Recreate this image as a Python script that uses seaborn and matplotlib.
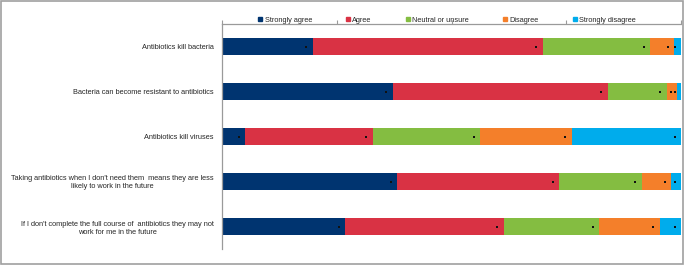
import matplotlib
matplotlib.use("Agg")
import matplotlib.pyplot as plt
from matplotlib.lines import Line2D
from matplotlib.patches import Rectangle
import seaborn as sns
import numpy as np
import pandas as pd

categories = [
    "Antibiotics kill bacteria",
    "Bacteria can become resistant to antibiotics",
    "Antibiotics kill viruses",
    "Taking antibiotics when I don't need them  means they are less\nlikely to work in the future",
    "If I don't complete the full course of  antibiotics they may not\nwork for me in the future",
]
series_names = ["Strongly agree", "Agree", "Neutral or unsure", "Disagree", "Strongly disagree"]
strongly_agree = [19.8, 37.2, 5.0, 38.2, 26.8]
agree = [50.1, 46.8, 27.8, 35.3, 34.6]
neutral = [23.4, 12.9, 23.4, 17.9, 20.8]
disagree = [5.2, 2.3, 20.0, 6.5, 13.2]
strongly_disagree = [1.5, 0.8, 23.8, 2.1, 4.6]
colors = ["#003470", "#d93244", "#84bd41", "#f47f2a", "#00acec"]

sns.set_style("white")
plt.rcParams["font.family"] = ["Liberation Sans", "DejaVu Sans"]

values = np.array([strongly_agree, agree, neutral, disagree, strongly_disagree])
cum = np.cumsum(values, axis=0)

fig = plt.figure(figsize=(6.85, 2.65), dpi=100)
ax = fig.add_axes([222 / 685, 1 - 249 / 265, 459 / 685, 225 / 265])

# draw cumulative bars from the largest to smallest so they appear stacked
for i in range(len(series_names) - 1, -1, -1):
    df = pd.DataFrame({"cat": categories, "val": cum[i]})
    sns.barplot(data=df, x="val", y="cat", orient="h", color=colors[i],
                width=0.37, saturation=1, ax=ax, linewidth=0, zorder=2 + (5 - i) * 0.01)

# small black markers near the end of each segment
mk = pd.DataFrame({
    "x": (cum - 1.4).ravel(),
    "y": np.tile(np.arange(len(categories)), len(series_names)),
})
sns.scatterplot(data=mk, x="x", y="y", marker="s", s=2.5, color="#111111",
                linewidth=0, ax=ax, zorder=5)

ax.set_xlim(0, 100)
ax.set_ylim(4.5, -0.5)
ax.set_xlabel("")
ax.set_ylabel("")

# spines
for s in ["bottom", "right"]:
    ax.spines[s].set_visible(False)
for s in ["left", "top"]:
    ax.spines[s].set_color("#9a9a9a")
    ax.spines[s].set_linewidth(0.9)

# top axis ticks (no labels)
ax.xaxis.set_ticks_position("top")
ax.set_xticks([0, 25, 50, 75, 100])
ax.set_xticklabels([])
ax.tick_params(axis="x", which="major", direction="out", length=3, width=0.8,
               color="#9a9a9a", top=True, bottom=False)

# y labels at centres, tick marks at boundaries
ax.set_yticks(range(len(categories)))
ax.set_yticklabels(categories, fontsize=5.3, multialignment="center")
ax.tick_params(axis="y", which="major", length=0, pad=6)
ax.set_yticks(np.arange(-0.5, len(categories)), minor=True)
ax.tick_params(axis="y", which="minor", direction="out", length=3, width=0.8,
               color="#9a9a9a")

handles = [Line2D([0], [0], marker="s", linestyle="none", markersize=2.2,
                  markerfacecolor=c, markeredgecolor=c) for c in colors]
fig.legend(handles, series_names, loc="center", bbox_to_anchor=(447 / 685, 1 - 20 / 265),
           ncol=5, frameon=False, fontsize=5.3, handlelength=0.6, handletextpad=0.3,
           columnspacing=4.6, borderpad=0)

fig.patches.append(Rectangle((0.0015, 0.003), 0.996, 0.993, transform=fig.transFigure,
                             fill=False, edgecolor="#a0a0a0", linewidth=1.2))

fig.savefig("out.png", dpi=100)
